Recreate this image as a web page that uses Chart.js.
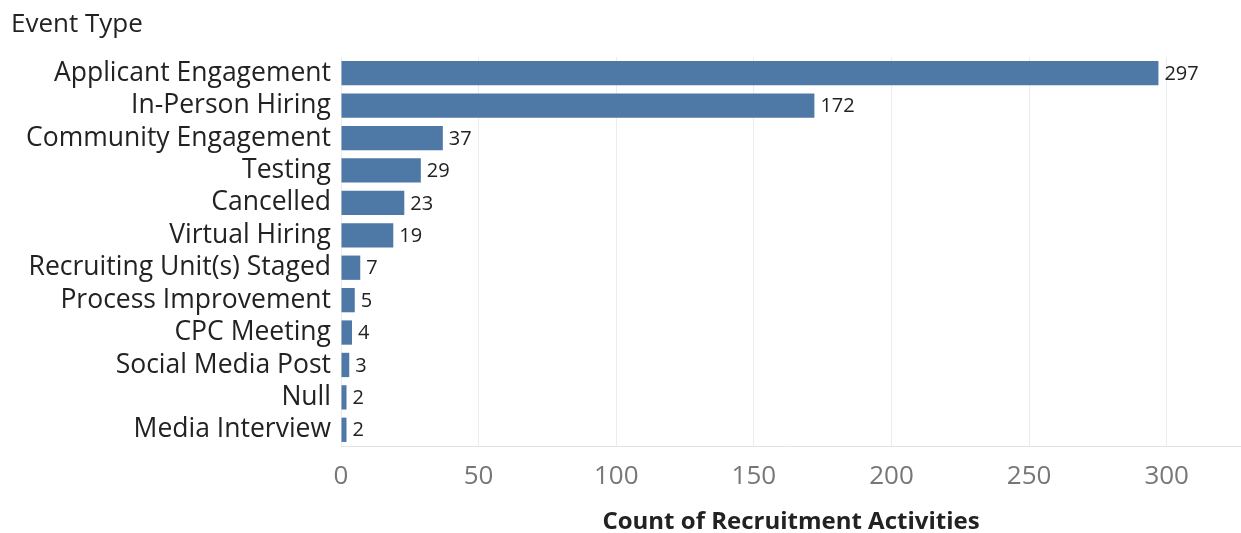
<!DOCTYPE html>
<html>
<head>
<meta charset="utf-8">
<script src="https://cdn.jsdelivr.net/npm/chart.js@4"></script>
<style>
  html, body { margin: 0; padding: 0; background: #fff; }
  #wrap { width: 1241px; height: 533px; }
</style>
</head>
<body>
<div id="wrap"><canvas id="chart" width="1241" height="533"></canvas></div>
<script>
// event types and their activity counts
const eventTypes = [
  "Applicant Engagement", "In-Person Hiring", "Community Engagement", "Testing",
  "Cancelled", "Virtual Hiring", "Recruiting Unit(s) Staged", "Process Improvement",
  "CPC Meeting", "Social Media Post", "Null", "Media Interview"
];
const activityCounts = [297, 172, 37, 29, 23, 19, 7, 5, 4, 3, 2, 2];
const xTicks = [0, 50, 100, 150, 200, 250, 300];

const FONT = "'Open Sans', 'Noto Sans', sans-serif";

// header text above the category labels
const headerLabel = {
  id: "headerLabel",
  afterDraw(chart) {
    const ctx = chart.ctx;
    ctx.save();
    ctx.font = "26px " + FONT;
    ctx.fillStyle = "#222";
    ctx.textAlign = "left";
    ctx.textBaseline = "middle";
    ctx.fillText("Event Type", 11, 25);
    ctx.restore();
  }
};

// count printed at the end of each bar
const barValues = {
  id: "barValues",
  afterDatasetsDraw(chart) {
    const ctx = chart.ctx;
    const meta = chart.getDatasetMeta(0);
    ctx.save();
    ctx.font = "20px " + FONT;
    ctx.fillStyle = "#222";
    ctx.textAlign = "left";
    ctx.textBaseline = "middle";
    meta.data.forEach((bar, i) => {
      ctx.fillText(String(activityCounts[i]), bar.x + 6, bar.y + 1);
    });
    ctx.restore();
  }
};

new Chart(document.getElementById("chart"), {
  type: "bar",
  data: {
    labels: eventTypes,
    datasets: [{
      data: activityCounts,
      backgroundColor: "#4e79a7",
      barPercentage: 0.75,
      categoryPercentage: 1
    }]
  },
  options: {
    indexAxis: "y",
    responsive: false,
    animation: false,
    layout: { padding: { top: 57, left: 0, right: 0, bottom: 0 } },
    plugins: { legend: { display: false }, tooltip: { enabled: false } },
    scales: {
      x: {
        min: 0,
        max: 327,
        afterBuildTicks: (scale) => { scale.ticks = xTicks.map((v) => ({ value: v })); },
        afterFit: (scale) => { scale.height = 87; },
        grid: { color: "#ececec", drawTicks: false },
        border: { display: true, color: "#e3e3e3" },
        ticks: { color: "#777", font: { family: FONT, size: 26 }, padding: 15, maxRotation: 0 },
        title: {
          display: true,
          text: "Count of Recruitment Activities",
          color: "#222",
          font: { family: FONT, size: 24, weight: "bold", lineHeight: 1 },
          padding: { top: 0, bottom: -1 }
        }
      },
      y: {
        afterFit: (scale) => { scale.width = 341; },
        grid: { display: false, drawTicks: false },
        border: { display: false },
        ticks: { color: "#222", font: { family: FONT, size: 26.5 }, padding: 10, autoSkip: false }
      }
    }
  },
  plugins: [headerLabel, barValues]
});
</script>
</body>
</html>
